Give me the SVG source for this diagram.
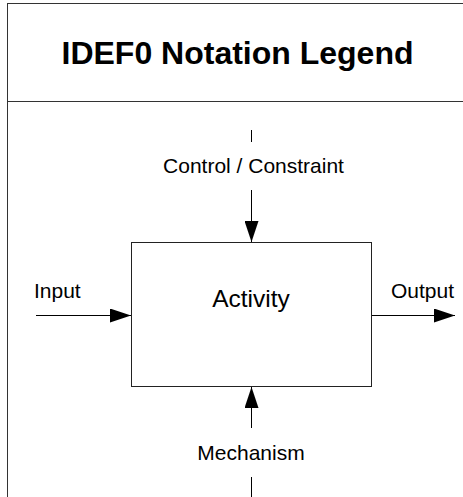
<svg xmlns="http://www.w3.org/2000/svg" width="463" height="497" viewBox="0 0 463 497">
  <defs>
    <style>
      .frame { fill: none; stroke: #333; stroke-width: 1; }
      .wire { fill: none; stroke: #000; stroke-width: 1; }
      .box { fill: #fff; stroke: #222; stroke-width: 1; }
      .label { font-family: "Liberation Sans", Arial, sans-serif; font-size: 21px; fill: #000; }
      .title { font-family: "Liberation Sans", Arial, sans-serif; font-size: 32px; font-weight: bold; fill: #000; }
      .act { font-family: "Liberation Sans", Arial, sans-serif; font-size: 24.5px; fill: #000; }
    </style>
    <marker id="head" viewBox="0 0 21 14" refX="21" refY="7" markerWidth="21" markerHeight="14" markerUnits="userSpaceOnUse" orient="auto">
      <path d="M0,0 L21,7 L0,14 Z" fill="#000"/>
    </marker>
  </defs>

  <!-- legend frame with title band -->
  <g id="frame">
    <rect class="frame" x="7.5" y="3.5" width="461" height="520"/>
    <line class="frame" x1="7.5" y1="101.5" x2="468.5" y2="101.5"/>
    <text class="title" x="237.5" y="64" text-anchor="middle">IDEF0 Notation Legend</text>
  </g>

  <!-- the function box -->
  <g id="activity">
    <rect class="box" x="131.5" y="242.5" width="240" height="144"/>
    <text class="act" x="251" y="306.5" text-anchor="middle">Activity</text>
  </g>

  <!-- ICOM arrows -->
  <g id="connectors">
    <line class="wire" x1="36" y1="315.5" x2="131" y2="315.5" marker-end="url(#head)"/>
    <line class="wire" x1="372" y1="315.5" x2="455" y2="315.5" marker-end="url(#head)"/>
    <line class="wire" x1="251.5" y1="130" x2="251.5" y2="142"/>
    <line class="wire" x1="251.5" y1="190" x2="251.5" y2="242" marker-end="url(#head)"/>
    <line class="wire" x1="251.5" y1="428" x2="251.5" y2="387" marker-end="url(#head)"/>
    <line class="wire" x1="251.5" y1="477" x2="251.5" y2="497"/>
  </g>

  <g id="input-label"><text class="label" x="34" y="298">Input</text></g>
  <g id="output-label"><text class="label" x="391" y="297.5">Output</text></g>
  <g id="control-label"><text class="label" x="253.5" y="173" text-anchor="middle">Control / Constraint</text></g>
  <g id="mechanism-label"><text class="label" x="251" y="460" text-anchor="middle">Mechanism</text></g>
</svg>
